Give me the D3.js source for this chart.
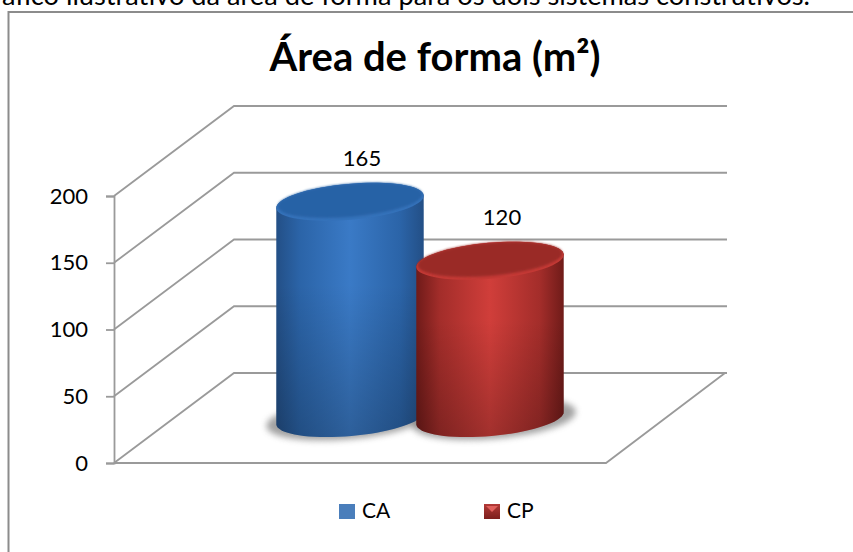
<!DOCTYPE html>
<html>
<head>
<meta charset="utf-8">
<script src="https://cdn.jsdelivr.net/npm/d3@7"></script>
<style>
    html, body { margin: 0; padding: 0; background: #fff; overflow: hidden; }
    svg { display: block; }
    text { font-family: Lato, "Open Sans", sans-serif; fill: #000; }
</style>
</head>
<body>
<svg id="chart" width="853" height="552"></svg>
<script>
// Data
const categories = ["CA", "CP"];
const values = [165, 120];
const yTicks = [0, 50, 100, 150, 200];
const chartTitle = "Área de forma (m²)";
const caption = "Gráfico ilustrativo da área de forma para os dois sistemas construtivos.";

const svg = d3.select("#chart");
const defs = svg.append("defs");

const lineColor = "#9a9a9a";
const depthX = 120, depthY = -90;

// scales
const y = d3.scaleLinear().domain([0, 200]).range([463, 196]);
const barY = d3.scaleLinear().domain([0, 200]).range([418, 156]);
const x = d3.scalePoint().domain(categories).range([350, 490]);

const rx = 74, ry = 18, tilt = -5 * Math.PI / 180;

// gradients for the cylinders
const palette = {
    CA: { edge: "#234f86", mid: "#3a7ac6", top: "#2862a6", rim: "#3572ba", base: "#2b64a8" },
    CP: { edge: "#6f1b19", mid: "#d03e3a", top: "#9a2b27", rim: "#c43a36", base: "#a32d2a" }
};
categories.forEach(c => {
    const g = defs.append("linearGradient").attr("id", "body-" + c);
    g.append("stop").attr("offset", "0%").attr("stop-color", palette[c].edge);
    g.append("stop").attr("offset", "16%").attr("stop-color", palette[c].base);
    g.append("stop").attr("offset", "50%").attr("stop-color", palette[c].mid);
    g.append("stop").attr("offset", "84%").attr("stop-color", palette[c].base);
    g.append("stop").attr("offset", "100%").attr("stop-color", palette[c].edge);
});
const fade = defs.append("linearGradient").attr("id", "fade").attr("x2", 0).attr("y2", 1);
fade.append("stop").attr("offset", "40%").attr("stop-color", "#000").attr("stop-opacity", 0);
fade.append("stop").attr("offset", "100%").attr("stop-color", "#000").attr("stop-opacity", 0.22);
defs.append("filter").attr("id", "blur")
    .attr("x", "-20%").attr("y", "-50%").attr("width", "140%").attr("height", "200%")
    .append("feGaussianBlur").attr("stdDeviation", 3);
defs.append("filter").attr("id", "soft")
    .append("feGaussianBlur").attr("stdDeviation", 1.2);
const redKey = defs.append("linearGradient").attr("id", "key-CP").attr("x2", 0).attr("y2", 1);
redKey.append("stop").attr("offset", "0%").attr("stop-color", "#b23a37");
redKey.append("stop").attr("offset", "100%").attr("stop-color", "#7d1f1d");

// page caption, cut off by the top of the picture
svg.append("text")
    .attr("x", 810).attr("y", 5)
    .attr("text-anchor", "end")
    .style("font-size", "27.2px")
    .text(caption);

// chart frame
svg.append("path")
    .attr("d", "M8.5,552V12H853")
    .attr("fill", "none")
    .attr("stroke", "#8c8c8c")
    .attr("stroke-width", 2);

svg.append("text")
    .attr("x", 435).attr("y", 71)
    .attr("text-anchor", "middle")
    .style("font-size", "40px")
    .style("font-weight", "bold")
    .text(chartTitle);

// walls and floor
const grid = svg.append("g")
    .attr("fill", "none")
    .attr("stroke", lineColor)
    .attr("stroke-width", 1.8);

grid.selectAll("path.wall")
    .data(yTicks)
    .enter().append("path")
    .attr("class", "wall")
    .attr("d", d => `M114,${y(d)}L${114 + depthX},${y(d) + depthY}H727`);

grid.append("path")
    .attr("d", `M114,${y(0)}H606L725,${y(0) + depthY}`);

// y axis
const axis = svg.append("g")
    .attr("transform", "translate(114,0)")
    .call(d3.axisLeft(y).tickValues(yTicks).tickSize(8).tickPadding(18));
axis.selectAll("line, path")
    .attr("stroke", lineColor)
    .attr("stroke-width", 1.8);
axis.selectAll("text")
    .style("font-size", "22px")
    .style("font-family", "Lato, sans-serif")
    .attr("fill", "#000");

// shadows on the floor
svg.selectAll("ellipse.shadow")
    .data(categories)
    .enter().append("ellipse")
    .attr("class", "shadow")
    .attr("cx", d => x(d) + (d === "CA" ? -2 : 4))
    .attr("cy", barY(0) + 1)
    .attr("rx", rx + 8)
    .attr("ry", ry + 2)
    .attr("transform", d => `rotate(-5,${x(d)},${barY(d === "CA" ? 0 : 0)})`)
    .attr("fill", "#555")
    .attr("opacity", 0.55)
    .attr("filter", "url(#blur)");

// point on a tilted ellipse, t in degrees
function ellipsePoint(cx, cy, t) {
    const a = t * Math.PI / 180;
    return [
        cx + rx * Math.cos(a) * Math.cos(tilt) - ry * Math.sin(a) * Math.sin(tilt),
        cy + rx * Math.cos(a) * Math.sin(tilt) + ry * Math.sin(a) * Math.cos(tilt)
    ];
}

const outline = d3.line();
const frontAngles = d3.range(180, -1, -5);
const backAngles = d3.range(0, -181, -5);

const barData = categories.map((c, i) => ({ c, v: values[i] }));

function bodyPath(d) {
    const cx = x(d.c);
    const pts = frontAngles.map(t => ellipsePoint(cx, barY(0), t))
        .concat(backAngles.map(t => ellipsePoint(cx, barY(d.v), t)));
    return outline(pts) + "Z";
}

// cylinders, drawn from the scales
const bars = svg.selectAll("g.bar")
    .data(barData)
    .enter().append("g")
    .attr("class", "bar");

bars.append("path")
    .attr("d", bodyPath)
    .attr("fill", d => `url(#body-${d.c})`);

bars.append("path")
    .attr("d", bodyPath)
    .attr("fill", "url(#fade)");

// lit rim of the top face
bars.append("ellipse")
    .attr("cx", d => x(d.c))
    .attr("cy", d => barY(d.v))
    .attr("rx", rx)
    .attr("ry", ry)
    .attr("transform", d => `rotate(-5,${x(d.c)},${barY(d.v)})`)
    .attr("fill", d => palette[d.c].rim);

bars.append("ellipse")
    .attr("cx", d => x(d.c))
    .attr("cy", d => barY(d.v) - 1.5)
    .attr("rx", rx - 1.5)
    .attr("ry", ry - 1.5)
    .attr("transform", d => `rotate(-5,${x(d.c)},${barY(d.v) - 1.5})`)
    .attr("fill", d => palette[d.c].top)
    .attr("filter", "url(#soft)");

// value labels
svg.selectAll("text.value")
    .data(barData)
    .enter().append("text")
    .attr("class", "value")
    .attr("x", d => x(d.c) + 12)
    .attr("y", d => barY(d.v) - 36)
    .attr("text-anchor", "middle")
    .style("font-size", "22px")
    .text(d => d.v);

// legend
const legendX = d3.scalePoint().domain(categories).range([339, 484]);
const legend = svg.selectAll("g.key")
    .data(categories)
    .enter().append("g")
    .attr("class", "key")
    .attr("transform", d => `translate(${legendX(d)},504)`);

legend.append("rect")
    .attr("width", 16).attr("height", 15)
    .attr("fill", d => d === "CA" ? "#4a7ebb" : "url(#key-CP)");

legend.filter(d => d === "CP").append("path")
    .attr("d", "M2,2H14L8,8Z")
    .attr("fill", "#e0605c");

legend.append("text")
    .attr("x", 23).attr("y", 14)
    .style("font-size", "21px")
    .text(d => d);
</script>
</body>
</html>
